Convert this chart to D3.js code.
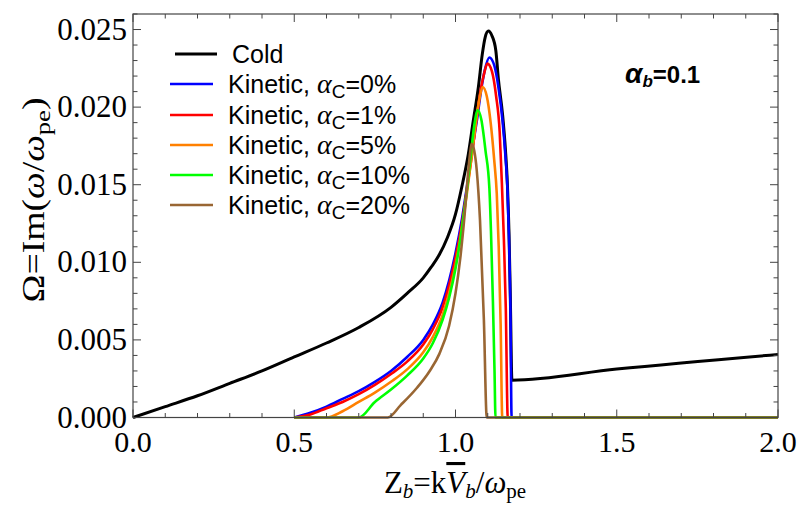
<!DOCTYPE html>
<html>
<head>
<meta charset="utf-8">
<script src="https://cdn.jsdelivr.net/npm/d3@7"></script>
<style>
  body { margin: 0; background: #fff; }
  svg { display: block; }
</style>
</head>
<body>
<div id="chart"></div>
<script>
// data
const coldX = [0, 0.1, 0.2, 0.3, 0.4, 0.5, 0.6, 0.7, 0.8, 0.85, 0.9, 0.925, 0.95, 0.975, 1.0, 1.02, 1.04, 1.055, 1.071, 1.083, 1.092, 1.102, 1.113, 1.125, 1.133, 1.146, 1.155, 1.161, 1.166, 1.170, 1.175, 1.5, 2.0];
const coldY = [0, 0.0007, 0.0014, 0.0022, 0.003, 0.0039, 0.0048, 0.0058, 0.0071, 0.0080, 0.0090, 0.0097, 0.0105, 0.0116, 0.0131, 0.0149, 0.0170, 0.0191, 0.0213, 0.0234, 0.0245, 0.0249, 0.0246, 0.02365, 0.0218, 0.0195, 0.0172, 0.0150, 0.0118, 0.0078, 0.0024, 0.00312, 0.00406];

const kin0X = [0.5, 0.55, 0.6, 0.65, 0.7, 0.75, 0.8, 0.85, 0.9, 0.93, 0.96, 0.98, 1.0, 1.02, 1.035, 1.05, 1.066, 1.081, 1.091, 1.105, 1.12, 1.133, 1.146, 1.155, 1.161, 1.166, 1.170, 1.174, 2.0];
const kin0Y = [0, 0.0003, 0.0007, 0.0012, 0.0017, 0.0023, 0.0030, 0.0039, 0.0050, 0.0060, 0.0074, 0.0088, 0.0106, 0.0128, 0.0148, 0.0170, 0.0191, 0.0213, 0.0224, 0.0232, 0.0227, 0.0213, 0.0191, 0.0168, 0.0148, 0.0115, 0.0075, 0, 0];

const kin1X = [0.5, 0.55, 0.6, 0.65, 0.7, 0.75, 0.8, 0.85, 0.9, 0.93, 0.96, 0.98, 1.0, 1.02, 1.036, 1.05, 1.063, 1.078, 1.088, 1.099, 1.113, 1.126, 1.137, 1.144, 1.150, 1.156, 1.162, 2.0];
const kin1Y = [0, 0.0002, 0.0006, 0.0010, 0.0015, 0.0021, 0.0028, 0.0036, 0.0047, 0.0057, 0.0071, 0.0085, 0.0103, 0.0125, 0.0148, 0.0168, 0.0189, 0.0211, 0.0221, 0.0228, 0.0223, 0.0207, 0.0184, 0.0150, 0.0115, 0.0070, 0, 0];

const kin5X = [0.5, 0.6, 0.65, 0.7, 0.75, 0.8, 0.85, 0.9, 0.93, 0.96, 0.98, 1.0, 1.02, 1.035, 1.05, 1.062, 1.074, 1.084, 1.097, 1.109, 1.12, 1.128, 1.134, 1.14, 1.145, 2.0];
const kin5Y = [0, 0, 0.0004, 0.0010, 0.0016, 0.0023, 0.0031, 0.0042, 0.0052, 0.0066, 0.0080, 0.0098, 0.0122, 0.0144, 0.0168, 0.0188, 0.0205, 0.0213, 0.0207, 0.0190, 0.0166, 0.0144, 0.0110, 0.0060, 0, 0];

const kin10X = [0.5, 0.7, 0.75, 0.8, 0.85, 0.9, 0.93, 0.96, 0.98, 1.0, 1.02, 1.035, 1.046, 1.058, 1.069, 1.08, 1.093, 1.105, 1.11, 1.116, 1.121, 1.124, 2.0];
const kin10Y = [0, 0, 0.0010, 0.0018, 0.0027, 0.0038, 0.0048, 0.0063, 0.0077, 0.0096, 0.0122, 0.0146, 0.0166, 0.0188, 0.0198, 0.0192, 0.0172, 0.0148, 0.0120, 0.0075, 0.0030, 0, 0];

const kin20X = [0.5, 0.79, 0.83, 0.88, 0.92, 0.95, 0.98, 1.0, 1.015, 1.028, 1.038, 1.045, 1.050, 1.058, 1.066, 1.076, 1.088, 1.097, 2.0];
const kin20Y = [0, 0, 0.0008, 0.0019, 0.0030, 0.0041, 0.0059, 0.0080, 0.0103, 0.0130, 0.0155, 0.0170, 0.01763, 0.0172, 0.0159, 0.0127, 0.0063, 0, 0];

const seriesNames = ["Cold", "0%", "1%", "5%", "10%", "20%"];
const seriesColors = ["#000000", "#0000ff", "#ff0000", "#ff8000", "#00ff00", "#996633"];
const seriesXs = [coldX, kin0X, kin1X, kin5X, kin10X, kin20X];
const seriesYs = [coldY, kin0Y, kin1Y, kin5Y, kin10Y, kin20Y];

const xTicks = [0, 0.5, 1.0, 1.5, 2.0];
const yTicks = [0, 0.005, 0.010, 0.015, 0.020, 0.025];

const W = 799, H = 505;
const svg = d3.select("#chart").append("svg")
    .attr("width", W)
    .attr("height", H);

const x = d3.scaleLinear().domain([0, 2]).range([133, 778]);
const y = d3.scaleLinear().domain([0, 0.026]).range([417.5, 14]);

// curves (black first, the kinetic ones over it)
const line = d3.line()
    .x(d => x(d[0]))
    .y(d => y(d[1]))
    .curve(d3.curveMonotoneX);

seriesXs.forEach((xs, i) => {
    const pts = xs.map((v, j) => [v, seriesYs[i][j]]);
    svg.append("path")
        .datum(pts)
        .attr("fill", "none")
        .attr("stroke", seriesColors[i])
        .attr("stroke-width", i == 0 ? 3 : 2.6)
        .attr("stroke-linejoin", "round")
        .attr("d", line);
});

// frame + ticks
const frameCol = "#444";
svg.append("rect")
    .attr("x", x(0)).attr("y", y(0.026))
    .attr("width", x(2) - x(0)).attr("height", y(0) - y(0.026))
    .attr("fill", "none").attr("stroke", frameCol).attr("stroke-width", 1.2);

const xMinor = d3.range(0, 2.0001, 0.1);
const yMinor = d3.range(0, 0.0260001, 0.001);
const isMajor = (arr, d) => arr.some(t => Math.abs(t - d) < 1e-7);

svg.append("g").selectAll("line")
    .data(xMinor)
    .join("line")
    .attr("x1", d => x(d)).attr("x2", d => x(d))
    .attr("y1", y(0)).attr("y2", d => y(0) - (isMajor(xTicks, d) ? 8 : 4.5))
    .attr("stroke", frameCol);
svg.append("g").selectAll("line")
    .data(xMinor)
    .join("line")
    .attr("x1", d => x(d)).attr("x2", d => x(d))
    .attr("y1", y(0.026)).attr("y2", d => y(0.026) + (isMajor(xTicks, d) ? 8 : 4.5))
    .attr("stroke", frameCol);
[x(0), x(2)].forEach((px, k) => {
    svg.append("g").selectAll("line")
        .data(yMinor)
        .join("line")
        .attr("y1", d => y(d)).attr("y2", d => y(d))
        .attr("x1", px)
        .attr("x2", d => px + (k == 0 ? 1 : -1) * (isMajor(yTicks, d) ? 8 : 4.5))
        .attr("stroke", frameCol);
});

// tick labels
const serif = "'Liberation Serif', 'Times New Roman', serif";
svg.append("g").selectAll("text")
    .data(xTicks)
    .join("text")
    .attr("x", d => x(d)).attr("y", 452)
    .attr("text-anchor", "middle")
    .attr("font-family", serif).attr("font-size", 30)
    .text(d => d3.format(".1f")(d));
svg.append("g").selectAll("text")
    .data(yTicks)
    .join("text")
    .attr("x", 127).attr("y", d => y(d) + 10)
    .attr("text-anchor", "end")
    .attr("font-family", serif).attr("font-size", 31)
    .text(d => d3.format(".3f")(d));

// axis titles
const xt = svg.append("text")
    .attr("x", 455).attr("y", 493)
    .attr("text-anchor", "middle")
    .attr("font-family", serif).attr("font-size", 31);
xt.append("tspan").text("Z");
xt.append("tspan").attr("font-style", "italic").attr("font-size", 21).attr("dy", 5).text("b");
xt.append("tspan").attr("dy", -5).text("=k");
xt.append("tspan").attr("font-style", "italic").attr("text-decoration", "overline").text("V");
xt.append("tspan").attr("font-style", "italic").attr("font-size", 21).attr("dy", 5).text("b");
xt.append("tspan").attr("dy", -5).text("/");
xt.append("tspan").attr("font-style", "italic").text("ω");
xt.append("tspan").attr("font-size", 21).attr("dy", 5).text("pe");

const yt = svg.append("text")
    .attr("transform", "translate(44,200) rotate(-90)")
    .attr("text-anchor", "middle")
    .attr("font-family", serif).attr("font-size", 31)
    .attr("textLength", 205).attr("lengthAdjust", "spacingAndGlyphs");
yt.append("tspan").text("Ω=Im(");
yt.append("tspan").attr("font-style", "italic").text("ω");
yt.append("tspan").text("/");
yt.append("tspan").attr("font-style", "italic").text("ω");
yt.append("tspan").attr("font-size", 22).attr("dy", 6).text("pe");
yt.append("tspan").attr("dy", -6).text(")");

// legend
const sans = "'Liberation Sans', Arial, sans-serif";
const legY = [54, 84, 115, 145, 175, 205];
seriesNames.forEach((nm, i) => {
    const ly = legY[i];
    svg.append("line")
        .attr("x1", i == 0 ? 175 : 170).attr("x2", i == 0 ? 217 : 213)
        .attr("y1", ly).attr("y2", ly)
        .attr("stroke", seriesColors[i]).attr("stroke-width", i == 0 ? 3 : 2.6);
    const t = svg.append("text")
        .attr("x", i == 0 ? 232 : 228).attr("y", ly + 9.3)
        .attr("font-family", sans).attr("font-size", 25);
    if (i == 0) {
        t.text(nm);
    } else {
        t.append("tspan").text("Kinetic, ");
        t.append("tspan").attr("font-family", serif).attr("font-style", "italic").attr("font-size", 28).text("α");
        t.append("tspan").attr("font-size", 19).attr("dy", 5).text("C");
        t.append("tspan").attr("dy", -5).text("=" + nm);
    }
});

// annotation
const ann = svg.append("text")
    .attr("x", 625).attr("y", 83)
    .attr("font-family", sans).attr("font-size", 24).attr("font-weight", "bold");
ann.append("tspan").attr("font-style", "italic").attr("font-size", 28).text("α");
ann.append("tspan").attr("font-style", "italic").attr("font-size", 17).attr("dy", 4).text("b");
ann.append("tspan").attr("dy", -4).text("=0.1");
</script>
</body>
</html>
